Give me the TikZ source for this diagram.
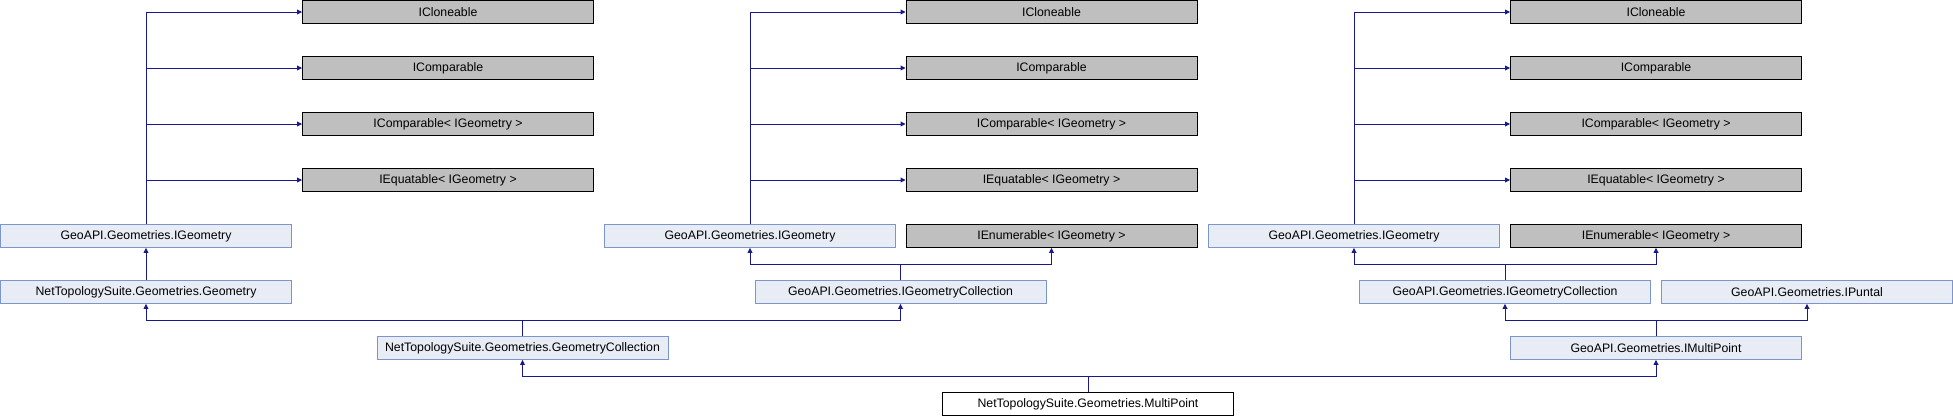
\documentclass[tikz,border=0pt]{standalone}
\usepackage{fontspec}
\setmainfont{Liberation Sans}
\usetikzlibrary{arrows.meta}
\definecolor{edgeblue}{RGB}{25,25,140}
\definecolor{extgray}{RGB}{191,191,191}
\definecolor{docfill}{RGB}{232,236,245}
\definecolor{docline}{RGB}{124,149,205}
\tikzset{
  box/.style={rectangle, minimum width=291pt, minimum height=22.8pt, inner sep=0pt, line width=0.9pt,
    font=\fontsize{12.3}{14}\selectfont},
  extbox/.style={box, draw=black, fill=extgray},
  docbox/.style={box, draw=docline, fill=docfill},
  mainbox/.style={box, draw=black, fill=white},
  edge/.style={draw=edgeblue, line width=1pt},
  arr/.style={edge, -{Triangle[length=5pt,width=4.8pt]}}
}
\begin{document}
\begin{tikzpicture}[x=1pt,y=-1pt]
\useasboundingbox (0,0) rectangle (1953,416);
% column 1
\node[extbox] (a1) at (448,12) {ICloneable};
\node[extbox] (a2) at (448,68) {IComparable};
\node[extbox] (a3) at (448,124) {IComparable< IGeometry >};
\node[extbox] (a4) at (448,180) {IEquatable< IGeometry >};
\node[docbox] (g1) at (146,236) {GeoAPI.Geometries.IGeometry};
\node[docbox] (geom) at (146,292) {NetTopologySuite.Geometries.Geometry};
\node[docbox] (gc) at (522.5,348) {NetTopologySuite.Geometries.GeometryCollection};
% column 2
\node[extbox] (b1) at (1051.5,12) {ICloneable};
\node[extbox] (b2) at (1051.5,68) {IComparable};
\node[extbox] (b3) at (1051.5,124) {IComparable< IGeometry >};
\node[extbox] (b4) at (1051.5,180) {IEquatable< IGeometry >};
\node[docbox] (g2) at (750,236) {GeoAPI.Geometries.IGeometry};
\node[extbox] (en2) at (1051.5,236) {IEnumerable< IGeometry >};
\node[docbox] (igc2) at (900.5,292) {GeoAPI.Geometries.IGeometryCollection};
% column 3
\node[extbox] (c1) at (1656,12) {ICloneable};
\node[extbox] (c2) at (1656,68) {IComparable};
\node[extbox] (c3) at (1656,124) {IComparable< IGeometry >};
\node[extbox] (c4) at (1656,180) {IEquatable< IGeometry >};
\node[docbox] (g3) at (1354,236) {GeoAPI.Geometries.IGeometry};
\node[extbox] (en3) at (1656,236) {IEnumerable< IGeometry >};
\node[docbox] (igc3) at (1505,292) {GeoAPI.Geometries.IGeometryCollection};
\node[docbox] (pun) at (1807,292) {GeoAPI.Geometries.IPuntal};
\node[docbox] (imp) at (1656,348) {GeoAPI.Geometries.IMultiPoint};
% main
\node[mainbox] (mp) at (1088,404) {NetTopologySuite.Geometries.MultiPoint};
% junctions
\coordinate (j1) at (900.5,264);
\coordinate (j2) at (1505,264);
\coordinate (j3) at (522.5,320);
\coordinate (j4) at (1656,320);
\coordinate (j5) at (1088,376);
% edges: IGeometry to interfaces
\foreach \g/\p in {g1/a, g2/b, g3/c} {
  \draw[edge] (\g.north) -- (\g.north |- \p1.west);
  \foreach \i in {1,2,3,4} {
    \draw[arr] (\g.north |- \p\i.west) -- (\p\i.west);
  }
}
\draw[arr] (geom.north) -- (g1.south);
\draw[edge] (igc2.north) -- (j1);
\draw[arr] (j1) -| (g2.south);
\draw[arr] (j1) -| (en2.south);
\draw[edge] (igc3.north) -- (j2);
\draw[arr] (j2) -| (g3.south);
\draw[arr] (j2) -| (en3.south);
\draw[edge] (gc.north) -- (j3);
\draw[arr] (j3) -| (geom.south);
\draw[arr] (j3) -| (igc2.south);
\draw[edge] (imp.north) -- (j4);
\draw[arr] (j4) -| (igc3.south);
\draw[arr] (j4) -| (pun.south);
\draw[edge] (mp.north) -- (j5);
\draw[arr] (j5) -| (gc.south);
\draw[arr] (j5) -| (imp.south);
\end{tikzpicture}
\end{document}
